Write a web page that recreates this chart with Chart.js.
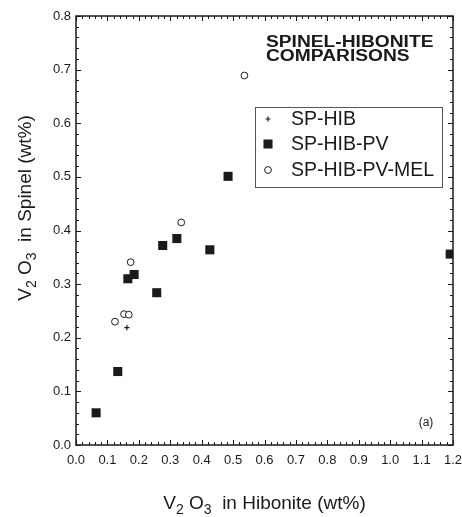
<!DOCTYPE html>
<html>
<head>
<meta charset="utf-8">
<script src="https://cdn.jsdelivr.net/npm/chart.js@4.4.1/dist/chart.umd.min.js"></script>
<style>
  html, body { margin: 0; padding: 0; background: #fff; }
</style>
</head>
<body>
<canvas id="chart" width="462" height="517"></canvas>
<script>
// V2O3 (wt%) in hibonite (x) vs spinel (y)
const spHibX = [0.162];
const spHibY = [0.219];
const spHibPvX = [0.064, 0.133, 0.165, 0.185, 0.257, 0.276, 0.321, 0.426, 0.484, 1.191];
const spHibPvY = [0.060, 0.137, 0.310, 0.318, 0.284, 0.372, 0.385, 0.364, 0.501, 0.356];
const spHibPvMelX = [0.124, 0.153, 0.168, 0.174, 0.335, 0.536];
const spHibPvMelY = [0.230, 0.244, 0.243, 0.341, 0.415, 0.689];
const seriesNames = ["SP-HIB", "SP-HIB-PV", "SP-HIB-PV-MEL"];
const titleLines = ["SPINEL-HIBONITE", "COMPARISONS"];
const panelLabel = "(a)";
const xTitle = [["V", 0], ["2", 1], [" O", 0], ["3", 1], ["  in Hibonite (wt%)", 0]];
const yTitle = [["V", 0], ["2", 1], [" O", 0], ["3", 1], ["  in Spinel (wt%)", 0]];

const FONT = "'Liberation Sans', Arial, Helvetica, sans-serif";
const INK = "#1a1a1a";

function toPoints(xs, ys) {
  return xs.map((x, i) => ({ x: x, y: ys[i] }));
}

function drawMarker(ctx, style, x, y) {
  ctx.save();
  if (style === "rect") {
    ctx.fillStyle = INK;
    ctx.fillRect(x - 4.5, y - 4.5, 9, 9);
  } else if (style === "circle") {
    ctx.beginPath();
    ctx.arc(x, y, 3.4, 0, Math.PI * 2);
    ctx.fillStyle = "#fff";
    ctx.fill();
    ctx.lineWidth = 1;
    ctx.strokeStyle = INK;
    ctx.stroke();
  } else {
    ctx.strokeStyle = INK;
    ctx.lineWidth = 1.2;
    ctx.beginPath();
    ctx.moveTo(x - 2.5, y); ctx.lineTo(x + 2.5, y);
    ctx.moveTo(x, y - 2.5); ctx.lineTo(x, y + 2.5);
    ctx.stroke();
  }
  ctx.restore();
}

// text with subscripts, centred on (cx, baseline)
function drawSubText(ctx, parts, cx, baseY, size) {
  const subSize = Math.round(size * 0.72);
  let total = 0;
  parts.forEach(([t, sub]) => {
    ctx.font = (sub ? subSize : size) + "px " + FONT;
    total += ctx.measureText(t).width;
  });
  let x = cx - total / 2;
  ctx.textAlign = "left";
  ctx.textBaseline = "alphabetic";
  parts.forEach(([t, sub]) => {
    ctx.font = (sub ? subSize : size) + "px " + FONT;
    ctx.fillText(t, x, sub ? baseY + size * 0.28 : baseY);
    x += ctx.measureText(t).width;
  });
}

const framePlugin = {
  id: "frame",
  beforeDatasetsDraw(chart) {
    const { ctx, chartArea: a, scales } = chart;
    ctx.save();
    ctx.strokeStyle = INK;
    ctx.lineWidth = 1.5;
    ctx.strokeRect(a.left, a.top, a.right - a.left, a.bottom - a.top);
    ctx.lineWidth = 1;
    ctx.beginPath();
    for (let i = 0; i <= 60; i++) {
      const px = Math.round(scales.x.getPixelForValue(i * 0.02)) + 0.5;
      const len = i % 5 === 0 ? 5 : 3;
      ctx.moveTo(px, a.bottom); ctx.lineTo(px, a.bottom - len);
      ctx.moveTo(px, a.top); ctx.lineTo(px, a.top + len);
    }
    for (let i = 0; i <= 40; i++) {
      const py = Math.round(scales.y.getPixelForValue(i * 0.02)) + 0.5;
      const len = i % 5 === 0 ? 5 : 3;
      ctx.moveTo(a.left, py); ctx.lineTo(a.left + len, py);
      ctx.moveTo(a.right, py); ctx.lineTo(a.right - len, py);
    }
    ctx.stroke();
    ctx.restore();
  },
  afterDraw(chart) {
    const { ctx, chartArea: a } = chart;
    ctx.save();
    ctx.fillStyle = INK;

    // axis titles
    drawSubText(ctx, xTitle, (a.left + a.right) / 2, 509, 19);
    ctx.save();
    ctx.translate(31, 208);
    ctx.rotate(-Math.PI / 2);
    drawSubText(ctx, yTitle, 0, 0, 19);
    ctx.restore();

    // chart title (wide bold lettering)
    ctx.save();
    ctx.font = "bold 16px " + FONT;
    ctx.textAlign = "left";
    ctx.textBaseline = "alphabetic";
    ctx.translate(266, 0);
    ctx.scale(1.2, 1);
    ctx.fillText(titleLines[0], 0, 47);
    ctx.fillText(titleLines[1], 0, 61);
    ctx.restore();

    // legend
    ctx.strokeStyle = "#555";
    ctx.lineWidth = 1;
    ctx.strokeRect(255.5, 107.5, 187, 80);
    const styles = ["cross", "rect", "circle"];
    const rowsY = [119, 144, 170];
    ctx.font = "19.5px " + FONT;
    ctx.textAlign = "left";
    ctx.textBaseline = "middle";
    chart.data.datasets.forEach((ds, i) => {
      drawMarker(ctx, styles[i], 268, rowsY[i]);
      ctx.fillStyle = INK;
      ctx.fillText(ds.label, 291, rowsY[i] + 1);
    });

    // panel label
    ctx.font = "12px " + FONT;
    ctx.textAlign = "center";
    ctx.fillText(panelLabel, 426, 423);
    ctx.restore();
  }
};

new Chart(document.getElementById("chart"), {
  type: "scatter",
  data: {
    datasets: [
      {
        label: seriesNames[0],
        data: toPoints(spHibX, spHibY),
        pointStyle: "cross",
        pointRadius: 2.6,
        borderColor: INK,
        borderWidth: 1.2
      },
      {
        label: seriesNames[1],
        data: toPoints(spHibPvX, spHibPvY),
        pointStyle: "rect",
        pointRadius: 6.4,
        backgroundColor: INK,
        borderWidth: 0
      },
      {
        label: seriesNames[2],
        data: toPoints(spHibPvMelX, spHibPvMelY),
        pointStyle: "circle",
        pointRadius: 3.4,
        backgroundColor: "#fff",
        borderColor: INK,
        borderWidth: 1
      }
    ]
  },
  options: {
    responsive: false,
    animation: false,
    layout: { padding: { top: 16, right: 9, left: 0, bottom: 0 } },
    plugins: {
      legend: { display: false },
      tooltip: { enabled: false }
    },
    scales: {
      x: {
        type: "linear",
        min: 0,
        max: 1.2,
        afterFit: (s) => { s.height = 72; s.paddingLeft = 0; s.paddingRight = 0; },
        grid: { display: false, drawTicks: false },
        border: { display: false },
        ticks: {
          stepSize: 0.1,
          padding: 8,
          color: INK,
          font: { family: FONT, size: 13 },
          maxRotation: 0,
          callback: (v) => v.toFixed(1)
        }
      },
      y: {
        type: "linear",
        min: 0,
        max: 0.8,
        afterFit: (s) => { s.width = 76; s.paddingTop = 0; s.paddingBottom = 0; },
        grid: { display: false, drawTicks: false },
        border: { display: false },
        ticks: {
          stepSize: 0.1,
          padding: 5,
          color: INK,
          font: { family: FONT, size: 13 },
          callback: (v) => v.toFixed(1)
        }
      }
    }
  },
  plugins: [framePlugin]
});
</script>
</body>
</html>
